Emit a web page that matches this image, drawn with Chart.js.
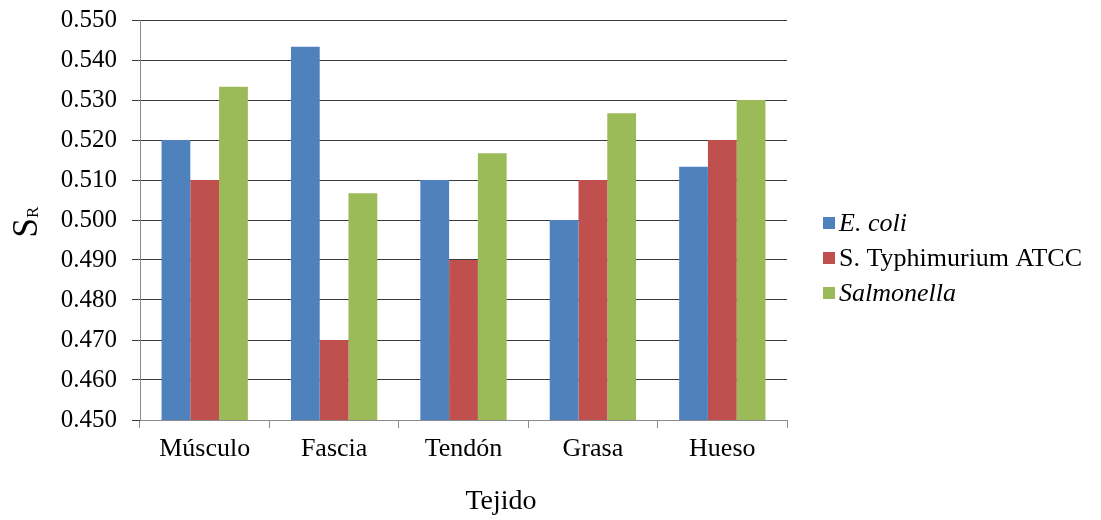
<!DOCTYPE html>
<html>
<head>
<meta charset="utf-8">
<script src="https://cdn.jsdelivr.net/npm/chart.js@4/dist/chart.umd.min.js"></script>
<style>
  html, body { margin: 0; padding: 0; background: #ffffff; }
  #c { display: block; }
</style>
</head>
<body>
<canvas id="c" width="1101" height="520"></canvas>
<script>
// Tissue categories and the S_R value measured for each organism
const categories = ['Músculo', 'Fascia', 'Tendón', 'Grasa', 'Hueso'];
const ecoli = [0.520, 0.5433, 0.510, 0.500, 0.5133];
const typhimurium = [0.510, 0.470, 0.490, 0.510, 0.520];
const salmonella = [0.5333, 0.5067, 0.5167, 0.5267, 0.530];

const seriesNames = ['E. coli', 'S. Typhimurium ATCC', 'Salmonella'];
const seriesItalic = [true, false, true];
const seriesColors = ['#4F81BD', '#C0504D', '#9BBB59'];

const yMin = 0.45, yMax = 0.55, yStep = 0.01;

const SERIF = '"Liberation Serif", "Times New Roman", serif';

// Legend with per-entry italic names
const legendPlugin = {
  id: 'serifLegend',
  afterDraw(chart) {
    const ctx = chart.ctx;
    ctx.save();
    const x0 = 823, y0 = 223, gap = 35, box = 12;
    chart.data.datasets.forEach((ds, i) => {
      const cy = y0 + i * gap;
      ctx.fillStyle = ds.backgroundColor;
      ctx.fillRect(x0, cy - box / 2, box, box);
      ctx.fillStyle = '#000';
      ctx.font = (seriesItalic[i] ? 'italic ' : '') + '26px ' + SERIF;
      ctx.textBaseline = 'middle';
      ctx.textAlign = 'left';
      ctx.fillText(ds.label, x0 + box + 4, cy + 1);
    });
    ctx.restore();
  }
};

// Axis titles: rotated S with subscript R, and the category title
const titlesPlugin = {
  id: 'axisTitles',
  afterDraw(chart) {
    const ctx = chart.ctx;
    ctx.save();
    ctx.fillStyle = '#000';
    ctx.textBaseline = 'alphabetic';
    ctx.textAlign = 'left';
    // y title
    ctx.translate(37, 222);
    ctx.rotate(-Math.PI / 2);
    ctx.font = '35px ' + SERIF;
    const wS = ctx.measureText('S').width;
    ctx.font = '17px ' + SERIF;
    const wR = ctx.measureText('R').width;
    const start = -(wS + wR) / 2;
    ctx.font = '35px ' + SERIF;
    ctx.fillText('S', start, 0);
    ctx.font = '17px ' + SERIF;
    ctx.fillText('R', start + wS, 1);
    ctx.restore();

    ctx.save();
    ctx.fillStyle = '#000';
    ctx.font = '28px ' + SERIF;
    ctx.textAlign = 'center';
    ctx.textBaseline = 'alphabetic';
    ctx.fillText('Tejido', 501, 509);
    ctx.restore();
  }
};

const datasets = [ecoli, typhimurium, salmonella].map((vals, i) => ({
  label: seriesNames[i],
  data: vals,
  backgroundColor: seriesColors[i],
  borderWidth: 0,
  categoryPercentage: 0.667,
  barPercentage: 1.0
}));

new Chart(document.getElementById('c'), {
  type: 'bar',
  data: { labels: categories, datasets },
  options: {
    responsive: false,
    animation: false,
    devicePixelRatio: 1,
    layout: { padding: { top: 20, right: 314, left: 0, bottom: 0 } },
    plugins: {
      legend: { display: false },
      tooltip: { enabled: false }
    },
    scales: {
      x: {
        grid: {
          display: true,
          drawOnChartArea: false,
          offset: true,
          tickLength: 8,
          color: '#8c8c8c'
        },
        border: { color: '#8c8c8c' },
        ticks: {
          color: '#000',
          font: { family: SERIF, size: 26 },
          padding: 6
        },
        afterFit(scale) { scale.height = 100; }
      },
      y: {
        min: yMin,
        max: yMax,
        grid: {
          color: '#3a3a3a',
          lineWidth: 1,
          tickLength: 8
        },
        border: { color: '#8c8c8c' },
        ticks: {
          stepSize: yStep,
          color: '#000',
          font: { family: SERIF, size: 25 },
          padding: 15,
          callback: (v) => Number(v).toFixed(3)
        },
        afterFit(scale) {
          scale.width = 140;
          scale.paddingTop = 0;
          scale.paddingBottom = 0;
        }
      }
    }
  },
  plugins: [legendPlugin, titlesPlugin]
});
</script>
</body>
</html>
